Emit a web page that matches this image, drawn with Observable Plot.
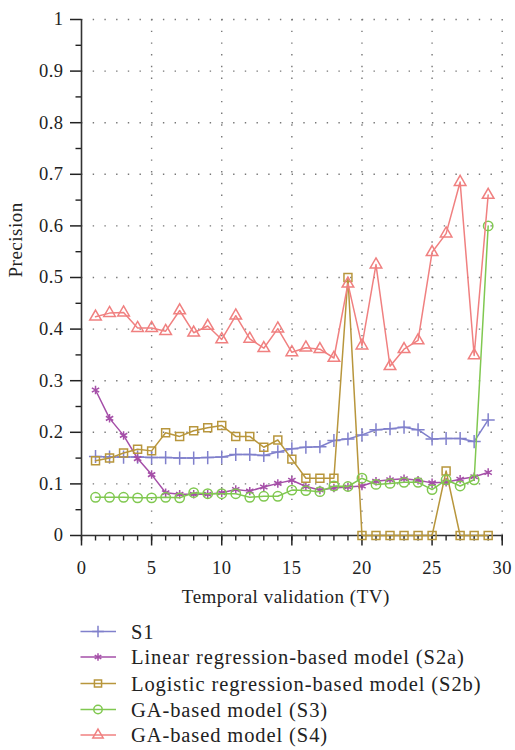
<!DOCTYPE html>
<html><head><meta charset="utf-8">
<script src="https://cdn.jsdelivr.net/npm/d3@7"></script>
<script src="https://cdn.jsdelivr.net/npm/@observablehq/plot@0.6"></script>
<style>
body{margin:0;background:#fff;}
#chart svg, #legend svg{display:block;}
#chart svg text{letter-spacing:0.5px;}
#legend svg text{letter-spacing:0.9px;}
</style></head><body><div id="chart"></div><div id="legend"></div>
<script>
const tv = [1,2,3,4,5,6,7,8,9,10,11,12,13,14,15,16,17,18,19,20,21,22,23,24,25,26,27,28,29];
const seriesNames = ["S1","Linear regression-based model (S2a)","Logistic regression-based model (S2b)","GA-based model (S3)","GA-based model (S4)"];
const s1  = [0.153,0.152,0.152,0.152,0.151,0.151,0.150,0.150,0.151,0.152,0.157,0.157,0.155,0.162,0.168,0.171,0.172,0.184,0.187,0.195,0.205,0.207,0.210,0.205,0.187,0.188,0.188,0.182,0.224];
const s2a = [0.282,0.227,0.194,0.149,0.118,0.083,0.080,0.080,0.080,0.083,0.089,0.086,0.094,0.101,0.107,0.095,0.088,0.092,0.094,0.096,0.105,0.108,0.110,0.107,0.102,0.103,0.109,0.114,0.122];
const s2b = [0.145,0.150,0.160,0.167,0.164,0.199,0.192,0.203,0.209,0.213,0.192,0.192,0.171,0.185,0.148,0.111,0.111,0.111,0.500,0,0,0,0,0,0,0.125,0,0,0];
const s3  = [0.074,0.074,0.074,0.073,0.073,0.074,0.073,0.083,0.081,0.081,0.081,0.074,0.076,0.076,0.088,0.087,0.085,0.096,0.095,0.111,0.099,0.101,0.103,0.103,0.089,0.108,0.096,0.108,0.600];
const s4  = [0.424,0.431,0.432,0.402,0.402,0.396,0.436,0.393,0.406,0.380,0.426,0.381,0.363,0.401,0.355,0.364,0.361,0.344,0.488,0.368,0.525,0.328,0.361,0.378,0.549,0.585,0.685,0.349,0.660];
const yTicks = [0,0.1,0.2,0.3,0.4,0.5,0.6,0.7,0.8,0.9,1];
const yTickLabels = ["0","0.1","0.2","0.3","0.4","0.5","0.6","0.7","0.8","0.9","1"];
const yMinor = [0.05,0.15,0.25,0.35,0.45,0.55,0.65,0.75,0.85,0.95];
const xTicks = [0,5,10,15,20,25,30];
const xMinor = d3.range(0,31);
const xLabel = "Temporal validation (TV)";
const yLabel = "Precision";

const colors = ["#8080cc","#a54fa8","#b8963c","#80c850","#f08080"];
const symbols = ["plus","asterisk","square","circle","triangle"];
const radii = [4.3,4,4.5,4.7,4.3];
const values = [s1,s2a,s2b,s3,s4];

const data = values.flatMap((vals,k)=>vals.map((v,i)=>({tv:tv[i], p:v, s:k})));
const font = "'Liberation Serif','Times New Roman',serif";

const seriesMarks = values.flatMap((vals,k)=>{
  const d = data.filter(r=>r.s===k);
  return [
    Plot.line(d,{x:"tv",y:"p",stroke:colors[k],strokeWidth:1.5}),
    Plot.dot(d,{x:"tv",y:"p",symbol:()=>symbols[k],r:radii[k],stroke:colors[k],fill:"none",strokeWidth:1.5})
  ];
});

const gridStyle = {stroke:"#777",strokeOpacity:1,strokeWidth:1.4,strokeDasharray:"1.4,10.3"};
const chart = Plot.plot({
  width:515, height:610,
  marginLeft:81, marginRight:13.3, marginTop:19, marginBottom:75,
  x:{domain:[0,30]}, y:{domain:[0,1]},
  style:{fontFamily:font,fontSize:"18.5px",color:"#222",background:"white"},
  marks:[
    Plot.gridY(yTicks.slice(1),gridStyle),
    Plot.gridX(xTicks.slice(1),gridStyle),
    Plot.axisY(yMinor,{tickSize:5.5,tickFormat:()=>"",label:null,strokeWidth:1.4}),
    Plot.axisY(yTicks,{tickSize:11,tickPadding:7,tickFormat:(d)=>yTickLabels[yTicks.indexOf(d)],label:null,strokeWidth:1.5}),
    Plot.axisX(xMinor,{tickSize:5.5,tickFormat:()=>"",label:null,strokeWidth:1.4}),
    Plot.axisX(xTicks,{tickSize:10.5,tickPadding:15,label:null,strokeWidth:1.5}),
    Plot.ruleX([0],{stroke:"#333",strokeWidth:1.6}),
    Plot.ruleY([0],{stroke:"#333",strokeWidth:1.6}),
    ...seriesMarks,
    Plot.text([xLabel],{text:d=>d,frameAnchor:"bottom",dy:67,dx:-6,fontSize:19,fill:"#222"}),
    Plot.text([yLabel],{text:d=>d,frameAnchor:"left",dx:-66,rotate:-90,fontSize:19,fill:"#222"})
  ]
});
document.getElementById("chart").append(chart);

// legend
const lg = d3.select("#legend").append("svg").attr("width",515).attr("height",140)
  .style("font-family",font);
const rowY = [21.5,47,73.5,99.5,125];
const d3sym = {plus:d3.symbolPlus,asterisk:d3.symbolAsterisk,square:d3.symbolSquare,circle:d3.symbolCircle,triangle:d3.symbolTriangle};
seriesNames.forEach((name,k)=>{
  const g = lg.append("g").attr("transform",`translate(0,${rowY[k]})`);
  g.append("line").attr("x1",80.5).attr("x2",116).attr("stroke",colors[k]).attr("stroke-width",1.5);
  g.append("path").attr("transform","translate(98,0)")
    .attr("d",d3.symbol(d3sym[symbols[k]],Math.PI*radii[k]*radii[k]*0.8)())
    .attr("fill","none").attr("stroke",colors[k]).attr("stroke-width",1.5);
  g.append("text").attr("x",131).attr("dy","0.35em").attr("font-size",20.5).attr("fill","#222").text(name);
});
</script>
</body></html>
